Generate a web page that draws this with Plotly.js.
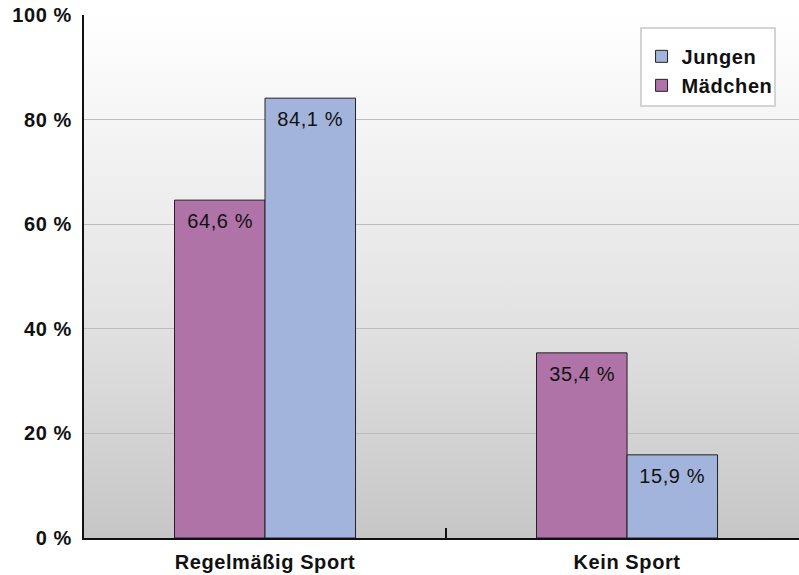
<!DOCTYPE html>
<html><head><meta charset="utf-8">
<script src="https://cdn.plot.ly/plotly-3.0.1.min.js"></script>
<style>
body{margin:0;padding:0;background:#fff;}
#wrap{position:relative;width:799px;height:575px;}
#bg{position:absolute;left:84px;top:15px;width:715px;height:523px;background:linear-gradient(to bottom,#ffffff 0%,#e4e4e4 55%,#c6c6c6 100%);}
#chart{position:absolute;left:0;top:0;width:799px;height:575px;}
#chart text{letter-spacing:0.6px;}
</style></head>
<body>
<div id="wrap"><div id="bg"></div><div id="chart"></div></div>
<script>
const categories = ["Regelmäßig Sport", "Kein Sport"];
const maedchen = [64.6, 35.4];
const jungen = [84.1, 15.9];
const yTicks = [0, 20, 40, 60, 80, 100];
const yTickText = ["0 %", "20 %", "40 %", "60 %", "80 %", "100 %"];

const font = "Liberation Sans, Arial, sans-serif";
const fmt = v => v.toFixed(1).replace('.', ',') + ' %';

const traces = [
  {type:'bar', name:'Mädchen', x:categories, y:maedchen,
   marker:{color:'#b073a8', line:{color:'#222', width:1}}, hoverinfo:'none'},
  {type:'bar', name:'Jungen', x:categories, y:jungen,
   marker:{color:'#a3b4dc', line:{color:'#222', width:1}}, hoverinfo:'none'}
];

const annotations = [];
categories.forEach((c, i) => {
  annotations.push({x:c, y:maedchen[i], xref:'x', yref:'y', text:fmt(maedchen[i]),
    showarrow:false, xshift:-45, yshift:-21, font:{family:font, size:20, color:'#111'}});
  annotations.push({x:c, y:jungen[i], xref:'x', yref:'y', text:fmt(jungen[i]),
    showarrow:false, xshift:45, yshift:-21, font:{family:font, size:20, color:'#111'}});
});

const layout = {
  width:799, height:575,
  margin:{l:84, r:0, t:15, b:37},
  paper_bgcolor:'rgba(0,0,0,0)', plot_bgcolor:'rgba(0,0,0,0)',
  barmode:'group', bargap:0.5, bargroupgap:0,
  showlegend:true,
  annotations: annotations,
  legend:{x:0.777, y:0.977, xanchor:'left', yanchor:'top', traceorder:'reversed',
    bgcolor:'#ffffff', bordercolor:'#d4d4d4', borderwidth:2,
    font:{family:font, size:20, color:'#111', weight:'bold'},
    title:{text:' ', font:{size:6}},
    entrywidth:128,
    itemwidth:30, tracegroupgap:0},
  xaxis:{type:'category', range:[-0.5, 1.475], tickson:'boundaries',
    ticks:'inside', ticklen:10, tickwidth:2, tickcolor:'#111',
    showline:true, linecolor:'#111', linewidth:2, showgrid:false,
    ticklabelstandoff:5,
    tickfont:{family:font, size:20, color:'#111', weight:'bold'}, fixedrange:true},
  yaxis:{range:[0,100], tickvals:yTicks, ticktext:yTickText, ticks:'',
    showline:true, linecolor:'#111', linewidth:2, ticklabelstandoff:6,
    showgrid:true, gridcolor:'#bdbdbd', gridwidth:1, zeroline:false,
    tickfont:{family:font, size:20, color:'#111', weight:'bold'}, fixedrange:true}
};
Plotly.newPlot('chart', traces, layout, {displayModeBar:false, staticPlot:true});
</script>
</body></html>
